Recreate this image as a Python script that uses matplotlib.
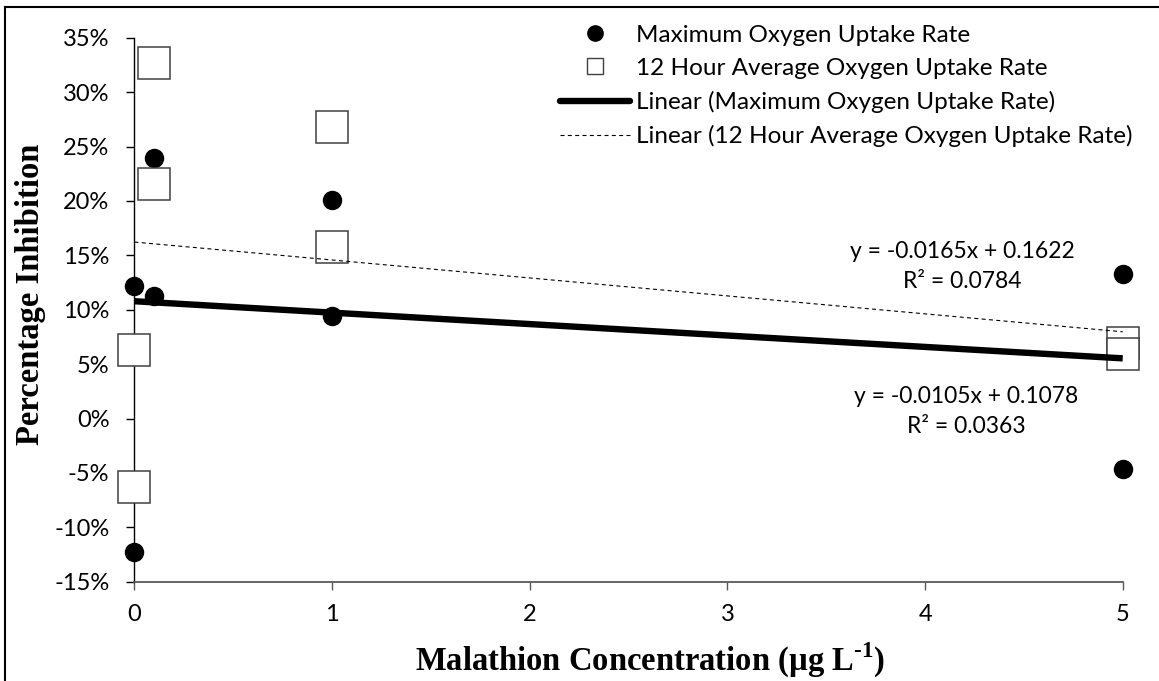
import matplotlib
matplotlib.use("Agg")
import matplotlib.pyplot as plt
from matplotlib.lines import Line2D
from matplotlib.ticker import PercentFormatter, MultipleLocator

plt.rcParams["font.family"] = ["Lato", "DejaVu Sans"]
plt.rcParams["axes.unicode_minus"] = False
plt.rcParams["mathtext.fontset"] = "custom"
plt.rcParams["mathtext.rm"] = "Liberation Serif:bold"
plt.rcParams["mathtext.bf"] = "Liberation Serif:bold"

# Malathion concentration (µg/L) for each replicate
conc = [0, 0, 0.1, 0.1, 1, 1, 5, 5]

# Percentage inhibition (fractions)
max_uptake = [0.122, -0.123, 0.113, 0.239, 0.201, 0.094, 0.133, -0.046]
avg_uptake = [0.063, -0.063, 0.216, 0.327, 0.268, 0.158, 0.069, 0.059]

# Linear trendlines (slope, intercept, R²)
max_fit = (-0.0105, 0.1078, 0.0363)
avg_fit = (-0.0165, 0.1622, 0.0784)

x_ticks = [0, 1, 2, 3, 4, 5]

fig = plt.figure(figsize=(11.59, 6.81), dpi=100)
ax = fig.add_axes([0.1160, 0.1458, 0.8527, 0.7988])

ax.plot(conc, max_uptake, "o", color="black", markersize=13, zorder=3, clip_on=False)
ax.plot(conc, avg_uptake, "s", markerfacecolor="white", markeredgecolor="#404040",
        markeredgewidth=1.1, markersize=23, zorder=4, clip_on=False)

x_line = [0, 5]
ax.plot(x_line, [max_fit[1] + max_fit[0] * x for x in x_line], "-", color="black",
        linewidth=4.6, solid_capstyle="butt", zorder=5, clip_on=False)
ax.plot(x_line, [avg_fit[1] + avg_fit[0] * x for x in x_line], color="black",
        linewidth=0.8, linestyle=(0, (3.6, 3.0)), zorder=5, clip_on=False)

ax.text(4.19, 0.140, f"y = {avg_fit[0]:.4f}x + {avg_fit[1]:.4f}\nR² = {avg_fit[2]:.4f}",
        ha="center", va="center", fontsize=16.5, linespacing=1.55, color="#000000")
ax.text(4.21, 0.0066, f"y = {max_fit[0]:.4f}x + {max_fit[1]:.4f}\nR² = {max_fit[2]:.4f}",
        ha="center", va="center", fontsize=16.5, linespacing=1.55, color="#000000")

ax.set_xlim(0, 5)
ax.set_ylim(-0.15, 0.35)
ax.set_xticks(x_ticks)
ax.yaxis.set_major_locator(MultipleLocator(0.05))
ax.yaxis.set_major_formatter(PercentFormatter(xmax=1, decimals=0))

for side in ("top", "right"):
    ax.spines[side].set_visible(False)
ax.spines["left"].set_color("black")
ax.spines["left"].set_linewidth(1.0)
ax.spines["bottom"].set_color("#595959")
ax.spines["bottom"].set_linewidth(1.3)
ax.tick_params(axis="y", direction="out", length=6, width=1.0, color="black",
               labelsize=17, pad=12)
ax.tick_params(axis="x", direction="out", length=6, width=1.0, color="#595959",
               labelsize=17, pad=10)

fig.text(0.5608, 0.0308, "Malathion Concentration (µg L$^{\u2010 1}$)",
         ha="center", va="center", fontsize=23.5, fontweight="bold",
         family=["Liberation Serif", "DejaVu Serif"])
fig.text(0.0259, 0.5676, "Percentage Inhibition", ha="center", va="center",
         rotation=90, fontsize=23.5, fontweight="bold", family="Liberation Serif")

handles = [
    Line2D([], [], marker="o", linestyle="none", color="black", markersize=11),
    Line2D([], [], marker="s", linestyle="none", markerfacecolor="white",
           markeredgecolor="#404040", markeredgewidth=1.0, markersize=11),
    Line2D([], [], color="black", linewidth=4.6, solid_capstyle="round"),
    Line2D([], [], color="black", linewidth=0.8, linestyle=(0, (3.6, 3.0))),
]
labels = [
    "Maximum Oxygen Uptake Rate",
    "12 Hour Average Oxygen Uptake Rate",
    "Linear (Maximum Oxygen Uptake Rate)",
    "Linear (12 Hour Average Oxygen Uptake Rate)",
]
fig.legend(handles, labels, loc="upper left", bbox_to_anchor=(0.4832, 0.9639),
           frameon=False, fontsize=17.5, borderpad=0, borderaxespad=0,
           handlelength=2.88, handletextpad=0.25, labelspacing=0.5)

# frame lines around the figure
fig.add_artist(Line2D([0.0043, 0.0043], [0, 0.9897], color="black", linewidth=1.5,
                      transform=fig.transFigure))
fig.add_artist(Line2D([0.0043, 1.0], [0.9897, 0.9897], color="black", linewidth=1.5,
                      transform=fig.transFigure))

fig.savefig("out.png", dpi=100)
